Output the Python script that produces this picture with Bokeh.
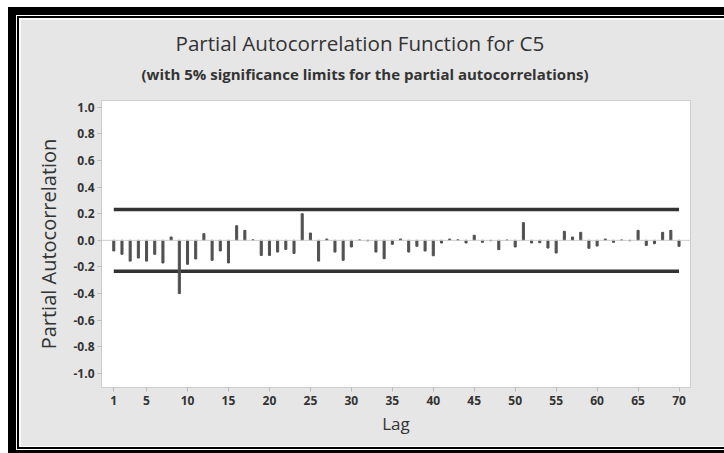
from bokeh.plotting import figure
from bokeh.models import Span, Title, Range1d, PrintfTickFormatter
from bokeh.embed import file_html
from bokeh.resources import INLINE

# ---- data ----
lags = list(range(1, 71))
pacf = [
    -0.080, -0.105, -0.156, -0.133, -0.156, -0.105, -0.170, 0.025, -0.400, -0.180,
    -0.140, 0.050, -0.150, -0.080, -0.170, 0.110, 0.075, 0.004, -0.113, -0.113,
    -0.088, -0.068, -0.098, 0.200, 0.055, -0.156, 0.010, -0.088, -0.150, -0.050,
    0.003, -0.004, -0.088, -0.138, -0.030, 0.010, -0.088, -0.045, -0.080, -0.116,
    -0.020, 0.010, 0.004, -0.020, 0.038, -0.015, -0.003, -0.070, 0.002, -0.050,
    0.133, -0.020, -0.018, -0.058, -0.095, 0.068, 0.025, 0.060, -0.060, -0.043,
    0.010, -0.015, 0.003, -0.003, 0.075, -0.038, -0.025, 0.060, 0.075, -0.045,
]
sig_limit = 0.232
x_ticks = [1, 5, 10, 15, 20, 25, 30, 35, 40, 45, 50, 55, 60, 65, 70]
y_ticks = [-1.0, -0.8, -0.6, -0.4, -0.2, 0.0, 0.2, 0.4, 0.6, 0.8, 1.0]
title_text = "Partial Autocorrelation Function for C5"
subtitle_text = "(with 5% significance limits for the partial autocorrelations)"
x_label = "Lag"
y_label = "Partial Autocorrelation"

FONT = "Open Sans"
PANEL = "#e6e6e6"
TEXT = "#333333"

p = figure(
    width=704, height=427,
    x_range=Range1d(-0.5, 71.4), y_range=Range1d(-1.105, 1.05),
    output_backend="svg", toolbar_location=None,
    min_border_left=81, min_border_right=34, min_border_top=81, min_border_bottom=59,
    margin=(19, 0, 0, 20),
    styles={"box-shadow": "0 0 0 1px white, 0 0 0 3px black, 0 0 0 4px white, 0 0 0 12px black"},
)
p.border_fill_color = PANEL
p.background_fill_color = "white"
p.outline_line_color = "#cccccc"
p.outline_line_width = 1
p.grid.visible = False

# zero reference line
p.add_layout(Span(location=0, dimension="width", line_color="#cccccc", line_width=1))

# significance limits
p.line(x=[min(lags), max(lags)], y=[sig_limit, sig_limit], line_color="#333333", line_width=3.5)
p.line(x=[min(lags), max(lags)], y=[-sig_limit, -sig_limit], line_color="#333333", line_width=3.5)

# PACF bars
p.vbar(x=lags, top=pacf, bottom=0, width=0.25, color="#505050")

# axes
p.xaxis.ticker = x_ticks
p.yaxis.ticker = y_ticks
p.yaxis.formatter = PrintfTickFormatter(format="%.1f")
for ax in (p.xaxis[0], p.yaxis[0]):
    ax.axis_line_color = None
    ax.major_tick_line_color = "#bbbbbb"
    ax.major_tick_in = 0
    ax.major_tick_out = 4
    ax.minor_tick_line_color = None
    ax.major_label_text_font = FONT
    ax.major_label_text_font_size = "12px"
    ax.major_label_text_font_style = "bold"
    ax.major_label_text_color = TEXT
    ax.axis_label_text_font = FONT
    ax.axis_label_text_font_style = "normal"
    ax.axis_label_text_color = TEXT
p.xaxis.axis_label = x_label
p.xaxis.axis_label_text_font_size = "17px"
p.xaxis.major_label_standoff = 4
p.xaxis.axis_label_standoff = 4
p.yaxis.axis_label = y_label
p.yaxis.axis_label_text_font_size = "20px"
p.yaxis.major_label_standoff = 3
p.yaxis.axis_label_standoff = 8

# titles (subtitle nearest the frame, main title above it)
p.add_layout(Title(text=subtitle_text, align="left", offset=40, standoff=33,
                   text_font=FONT, text_font_size="15px", text_font_style="bold",
                   text_color=TEXT), "above")
p.add_layout(Title(text=title_text, align="left", offset=74, standoff=-22,
                   text_font=FONT, text_font_size="20.6px", text_font_style="normal",
                   text_color=TEXT), "above")

open("out.html", "w").write(file_html(p, INLINE))
